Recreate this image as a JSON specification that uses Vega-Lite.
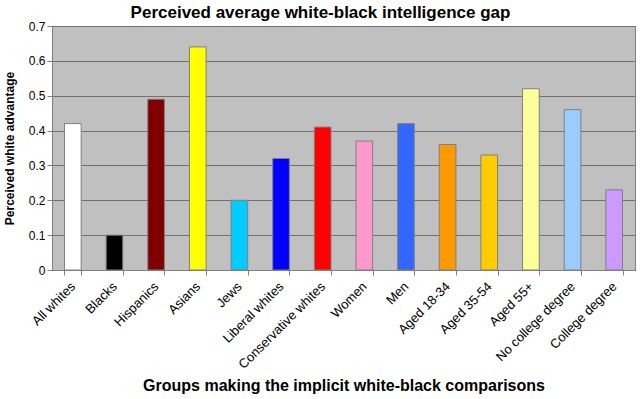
{
  "$schema": "https://vega.github.io/schema/vega-lite/v6.json",
  "autosize": {"type": "none"},
  "width": 583,
  "height": 244,
  "padding": {"left": 52, "top": 26, "right": 5, "bottom": 129},
  "background": "white",
  "title": {
    "text": "Perceived average white-black intelligence gap",
    "font": "Liberation Sans",
    "fontSize": 17,
    "fontWeight": "bold",
    "color": "black",
    "anchor": "middle",
    "offset": 6,
    "dy": 8,
    "dx": -23
  },
  "config": {
    "view": {"fill": "#C0C0C0", "stroke": "#808080", "strokeWidth": 1},
    "font": "Liberation Sans"
  },
  "data": {
    "values": [
      {"group": "All whites", "value": 0.42, "color": "#FFFFFF"},
      {"group": "Blacks", "value": 0.10, "color": "#000000"},
      {"group": "Hispanics", "value": 0.49, "color": "#800000"},
      {"group": "Asians", "value": 0.64, "color": "#FFFF00"},
      {"group": "Jews", "value": 0.20, "color": "#00CCFF"},
      {"group": "Liberal whites", "value": 0.32, "color": "#0000FF"},
      {"group": "Conservative whites", "value": 0.41, "color": "#FF0000"},
      {"group": "Women", "value": 0.37, "color": "#FF99CC"},
      {"group": "Men", "value": 0.42, "color": "#3366FF"},
      {"group": "Aged 18-34", "value": 0.36, "color": "#FF9900"},
      {"group": "Aged 35-54", "value": 0.33, "color": "#FFCC00"},
      {"group": "Aged 55+", "value": 0.52, "color": "#FFFF99"},
      {"group": "No college degree", "value": 0.46, "color": "#99CCFF"},
      {"group": "College degree", "value": 0.23, "color": "#CC99FF"}
    ]
  },
  "mark": {"type": "bar", "stroke": "#808080", "strokeWidth": 1},
  "encoding": {
    "x": {
      "field": "group",
      "type": "nominal",
      "sort": null,
      "scale": {"paddingInner": 0.6, "paddingOuter": 0.3},
      "axis": {
        "title": "Groups making the implicit white-black comparisons",
        "titleFont": "Liberation Sans",
        "titleFontSize": 16,
        "titleFontWeight": "bold",
        "titleColor": "black",
        "titlePadding": 6,
        "labelAngle": -45,
        "labelAlign": "right",
        "labelBaseline": "middle",
        "labelFont": "Liberation Sans",
        "labelFontSize": 13,
        "labelColor": "black",
        "labelPadding": 9,
        "tickBand": "extent",
        "tickColor": "#808080",
        "tickSize": 5,
        "domainColor": "#808080",
        "grid": false
      }
    },
    "y": {
      "field": "value",
      "type": "quantitative",
      "scale": {"domain": [0, 0.7], "nice": false},
      "axis": {
        "title": "Perceived white advantage",
        "titleFont": "Liberation Sans",
        "titleFontSize": 12,
        "titleFontWeight": "bold",
        "titleColor": "black",
        "titlePadding": 12,
        "values": [0, 0.1, 0.2, 0.3, 0.4, 0.5, 0.6, 0.7],
        "labelExpr": "datum.value == 0 ? '0' : format(datum.value, '.1f')",
        "labelFont": "Liberation Sans",
        "labelFontSize": 12,
        "labelColor": "black",
        "tickColor": "#808080",
        "tickSize": 5,
        "domainColor": "#808080",
        "grid": true,
        "gridColor": "#707070",
        "gridWidth": 1
      }
    },
    "fill": {"field": "color", "type": "nominal", "scale": null, "legend": null}
  }
}
